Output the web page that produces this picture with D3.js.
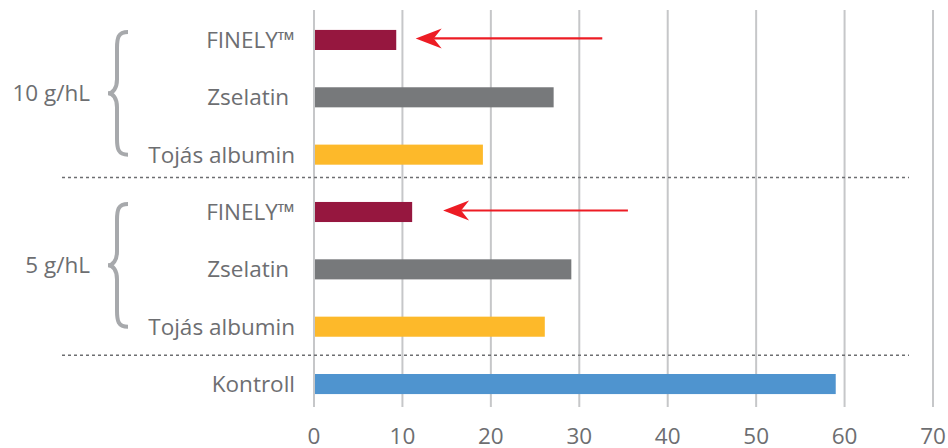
<!DOCTYPE html>
<html>
<head>
<meta charset="utf-8">
<script src="https://cdn.jsdelivr.net/npm/d3@7"></script>
<style>
  body { margin: 0; background: #fff; }
  text { font-family: "Open Sans", sans-serif; fill: #6d6e71; }
</style>
</head>
<body>
<div id="chart"></div>
<script>
// rows, top to bottom
const rowIds = ["f10", "z10", "t10", "f5", "z5", "t5", "k"];
const rowLabels = ["FINELY™", "Zselatin ", "Tojás albumin", "FINELY™", "Zselatin ", "Tojás albumin", "Kontroll"];
const values = [9.3, 27.1, 19.1, 11.1, 29.1, 26.1, 59.0];
const rowColors = ["#96173f", "#77797b", "#fdb92a", "#96173f", "#77797b", "#fdb92a", "#4f94cf"];

// dose groups with braces
const groupLabels = ["10 g/hL", "5 g/hL"];
const groupFirst = ["f10", "f5"];
const groupLast = ["t10", "t5"];

// dashed separators after these rows
const separatorAfter = ["t10", "t5"];

// red arrows (value units)
const arrowRows = ["f10", "f5"];
const arrowFrom = [32.6, 35.5];
const arrowTo = [11.5, 14.6];

const xTicks = [0, 10, 20, 30, 40, 50, 60, 70];

const width = 948, height = 448;
const fs = "22.5px";

const svg = d3.select("#chart")
    .append("svg")
    .attr("width", width)
    .attr("height", height);

const x = d3.scaleLinear().domain([0, 70]).range([314, 933]);
const y = d3.scaleBand().domain(rowIds).range([11, 413]).paddingInner(0.65).paddingOuter(0.33);
const step = y.step();
const mid = id => y(id) + y.bandwidth() / 2;

// gridlines
svg.selectAll(".grid")
    .data(xTicks)
    .enter()
    .append("line")
    .attr("x1", d => x(d))
    .attr("x2", d => x(d))
    .attr("y1", 10)
    .attr("y2", 407)
    .attr("stroke", "#c6c7c9")
    .attr("stroke-width", 2);

// x axis labels
svg.selectAll(".xlab")
    .data(xTicks)
    .enter()
    .append("text")
    .attr("x", d => x(d))
    .attr("y", 444)
    .attr("text-anchor", "middle")
    .style("font-size", fs)
    .text(d => d);

// separators
svg.selectAll(".sep")
    .data(separatorAfter)
    .enter()
    .append("line")
    .attr("x1", 62)
    .attr("x2", 909)
    .attr("y1", (d, i) => mid(d) + step * (i ? 0.5 : 0.4))
    .attr("y2", (d, i) => mid(d) + step * (i ? 0.5 : 0.4))
    .attr("stroke", "#6d6e71")
    .attr("stroke-width", 1.5)
    .attr("stroke-dasharray", "3,3");

// bars
svg.selectAll(".bar")
    .data(rowIds)
    .enter()
    .append("rect")
    .attr("x", x(0) + 1)
    .attr("y", d => y(d))
    .attr("width", (d, i) => x(values[i]) - x(0) - 1)
    .attr("height", y.bandwidth())
    .attr("fill", (d, i) => rowColors[i]);

// row labels
svg.selectAll(".rlab")
    .data(rowIds)
    .enter()
    .append("text")
    .attr("x", 295)
    .attr("y", d => mid(d))
    .attr("dy", "0.35em")
    .attr("text-anchor", "end")
    .style("font-size", fs)
    .style("white-space", "pre")
    .text((d, i) => rowLabels[i]);

// braces and group labels
groupLabels.forEach((g, i) => {
    const top = mid(groupFirst[i]) - 8;
    const bot = mid(groupLast[i]);
    const m = (top + bot) / 2;
    const path = d3.path();
    path.moveTo(128, top);
    path.bezierCurveTo(118, top, 117, top + 6, 117, top + 16);
    path.lineTo(117, m - 14);
    path.bezierCurveTo(117, m - 5, 113, m, 108, m);
    path.bezierCurveTo(113, m, 117, m + 5, 117, m + 14);
    path.lineTo(117, bot - 16);
    path.bezierCurveTo(117, bot - 6, 118, bot, 128, bot);
    svg.append("path")
        .attr("d", path.toString())
        .attr("fill", "none")
        .attr("stroke", "#a7a9ac")
        .attr("stroke-width", 4);
    svg.append("text")
        .attr("x", 90)
        .attr("y", m)
        .attr("dy", "0.35em")
        .attr("text-anchor", "end")
        .style("font-size", fs)
        .text(g);
});

// arrows
arrowRows.forEach((r, i) => {
    const ay = mid(r) - 1.5;
    const x1 = x(arrowFrom[i]), x2 = x(arrowTo[i]);
    svg.append("line")
        .attr("x1", x1).attr("x2", x2 + 18)
        .attr("y1", ay).attr("y2", ay)
        .attr("stroke", "#ed1c24")
        .attr("stroke-width", 2.2);
    svg.append("path")
        .attr("d", `M${x2},${ay} L${x2 + 26},${ay - 10} L${x2 + 18},${ay} L${x2 + 26},${ay + 10} Z`)
        .attr("fill", "#ed1c24");
});
</script>
</body>
</html>
